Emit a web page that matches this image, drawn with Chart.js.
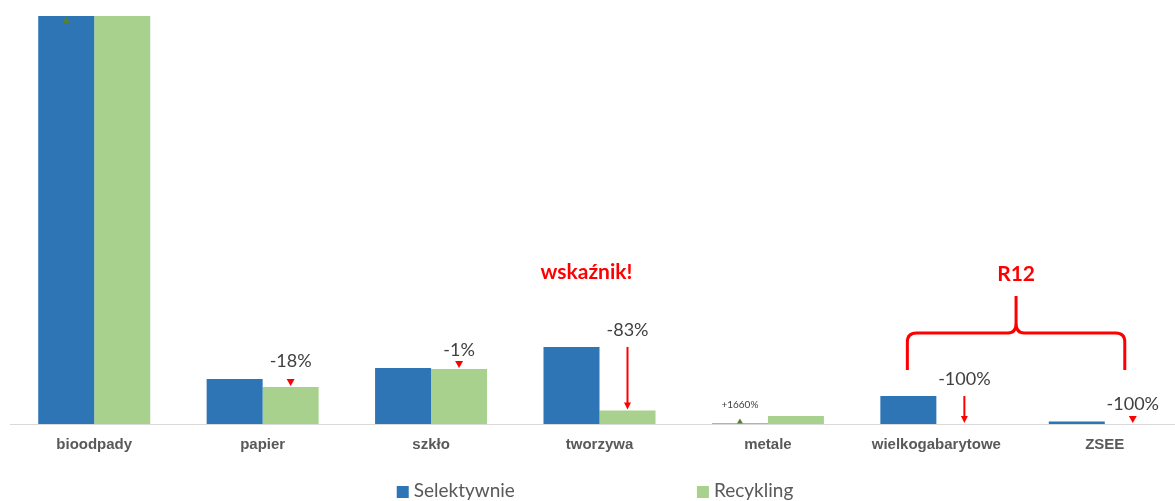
<!DOCTYPE html>
<html>
<head>
<meta charset="utf-8">
<script src="https://cdn.jsdelivr.net/npm/chart.js@4.4.0/dist/chart.umd.min.js"></script>
<style>
  html, body { margin: 0; padding: 0; background: #fff; overflow: hidden; }
  #wrap { position: relative; width: 1190px; height: 501px; }
</style>
</head>
<body>
<div id="wrap"><canvas id="wasteChart"></canvas></div>
<script>
const categories = ['bioodpady', 'papier', 'szkło', 'tworzywa', 'metale', 'wielkogabarytowe', 'ZSEE'];
const selektywnie = [430, 45, 56, 77, 0.5, 28, 2.5];
const recykling = [430, 37, 55, 13.5, 8, 0, 0];
const changeLabels = ['', '-18%', '-1%', '-83%', '+1660%', '-100%', '-100%'];
const axisMax = 408;

const BLUE = '#2e75b6';
const GREEN = '#a9d18e';
const RED = '#ff0000';
const DARK_GREEN = '#548235';

// markers over each category: which bar they sit on, and how they look
const marks = [
  { i: 0, on: 0, type: 'up', color: DARK_GREEN, w: 7, h: 7 },
  { i: 1, on: 1, type: 'down', color: RED, w: 8, h: 7, gap: 18, size: 18 },
  { i: 2, on: 1, type: 'down', color: RED, w: 8, h: 7, gap: 11, size: 18 },
  { i: 3, on: 1, type: 'arrow', color: RED, w: 7, h: 7, gap: 17, size: 18 },
  { i: 4, on: 0, type: 'up', color: DARK_GREEN, w: 6, h: 5, gap: 14, size: 10 },
  { i: 5, on: 1, type: 'arrow', color: RED, w: 7, h: 7, gap: 17, size: 18 },
  { i: 6, on: 1, type: 'down', color: RED, w: 8, h: 7, gap: 12, size: 18 }
];

function triangle(ctx, x, top, w, h, up) {
  ctx.beginPath();
  if (up) {
    ctx.moveTo(x, top);
    ctx.lineTo(x + w / 2, top + h);
    ctx.lineTo(x - w / 2, top + h);
  } else {
    ctx.moveTo(x - w / 2, top);
    ctx.lineTo(x + w / 2, top);
    ctx.lineTo(x, top + h);
  }
  ctx.closePath();
  ctx.fill();
}

const changeMarks = {
  id: 'changeMarks',
  afterDatasetsDraw(chart) {
    const ctx = chart.ctx;
    const area = chart.chartArea;
    const blueBars = chart.getDatasetMeta(0).data;
    const greenBars = chart.getDatasetMeta(1).data;
    ctx.save();
    marks.forEach(m => {
      const x = (m.on === 0 ? blueBars : greenBars)[m.i].x;
      const blueTop = blueBars[m.i].y;
      const greenTop = greenBars[m.i].y;
      let top;
      ctx.fillStyle = m.color;
      ctx.strokeStyle = m.color;
      if (m.type === 'down') {
        top = greenTop - 1 - m.h;
        triangle(ctx, x, top, m.w, m.h, false);
      } else if (m.type === 'up') {
        top = Math.max(area.top, blueTop - m.h);
        triangle(ctx, x, top, m.w, m.h, true);
      } else {
        top = blueTop;
        const end = greenTop - 1;
        ctx.lineWidth = 2;
        ctx.beginPath();
        ctx.moveTo(x, top);
        ctx.lineTo(x, end - m.h + 1);
        ctx.stroke();
        triangle(ctx, x, end - m.h, m.w, m.h, false);
      }
      const label = changeLabels[m.i];
      if (label) {
        ctx.fillStyle = '#404040';
        ctx.font = m.size + 'px Lato';
        ctx.textAlign = 'center';
        ctx.textBaseline = 'middle';
        ctx.fillText(label, x, top - m.gap);
      }
    });
    ctx.restore();
  }
};

const notes = {
  id: 'notes',
  afterDraw(chart) {
    const ctx = chart.ctx;
    const xs = chart.scales.x;
    const bottom = chart.chartArea.bottom;
    ctx.save();

    ctx.fillStyle = RED;
    ctx.font = 'bold 21px Lato';
    ctx.textAlign = 'center';
    ctx.textBaseline = 'middle';
    ctx.fillText('wskaźnik!', xs.getPixelForValue(3) - 13, bottom - 152);

    // curly brace over the last two categories
    const left = xs.getPixelForValue(5) - 29;
    const right = xs.getPixelForValue(6) + 20;
    const mid = (left + right) / 2;
    const yBar = bottom - 91;
    const yEnd = bottom - 54;
    const yTip = bottom - 128;
    const r = 9;
    ctx.strokeStyle = RED;
    ctx.lineWidth = 3;
    ctx.lineJoin = 'round';
    ctx.beginPath();
    ctx.moveTo(left, yEnd);
    ctx.lineTo(left, yBar + r);
    ctx.quadraticCurveTo(left, yBar, left + r, yBar);
    ctx.lineTo(mid - 8, yBar);
    ctx.quadraticCurveTo(mid, yBar, mid, yBar - 10);
    ctx.lineTo(mid, yTip);
    ctx.moveTo(mid, yBar - 10);
    ctx.quadraticCurveTo(mid, yBar, mid + 8, yBar);
    ctx.lineTo(right - r, yBar);
    ctx.quadraticCurveTo(right, yBar, right, yBar + r);
    ctx.lineTo(right, yEnd);
    ctx.stroke();

    ctx.fillText('R12', mid, bottom - 150);

    // legend, spread wide like the original
    const items = chart.data.datasets.map(d => ({ text: d.label, color: d.backgroundColor }));
    const box = 12;
    const spacing = 182;
    ctx.font = '19px Lato';
    const widths = items.map(it => box + 5 + ctx.measureText(it.text).width);
    const total = widths.reduce((a, b) => a + b, 0) + spacing * (items.length - 1);
    let x = chart.width / 2 - total / 2;
    const y = 491;
    ctx.textAlign = 'left';
    items.forEach((it, k) => {
      ctx.fillStyle = it.color;
      ctx.fillRect(x, y - 5, box, box);
      ctx.fillStyle = '#595959';
      ctx.fillText(it.text, x + box + 5, y);
      x += widths[k] + spacing;
    });
    ctx.restore();
  }
};

new Chart(document.getElementById('wasteChart'), {
  type: 'bar',
  data: {
    labels: categories,
    datasets: [
      { label: 'Selektywnie', data: selektywnie, backgroundColor: BLUE, clip: 0 },
      { label: 'Recykling', data: recykling, backgroundColor: GREEN, clip: 0 }
    ]
  },
  options: {
    responsive: true,
    maintainAspectRatio: false,
    animation: false,
    layout: { padding: { top: 16, left: 10, right: 1, bottom: 35 } },
    datasets: { bar: { categoryPercentage: 0.665, barPercentage: 1 } },
    scales: {
      x: {
        grid: { display: false, drawTicks: false },
        border: { display: true, color: '#d9d9d9', width: 1 },
        ticks: {
          padding: 12,
          color: '#595959',
          font: { family: "'Liberation Sans', Arial", size: 15, weight: 'bold' }
        }
      },
      y: { display: false, min: 0, max: axisMax }
    },
    plugins: {
      legend: { display: false },
      tooltip: { enabled: false }
    }
  },
  plugins: [changeMarks, notes]
});
</script>
</body>
</html>
